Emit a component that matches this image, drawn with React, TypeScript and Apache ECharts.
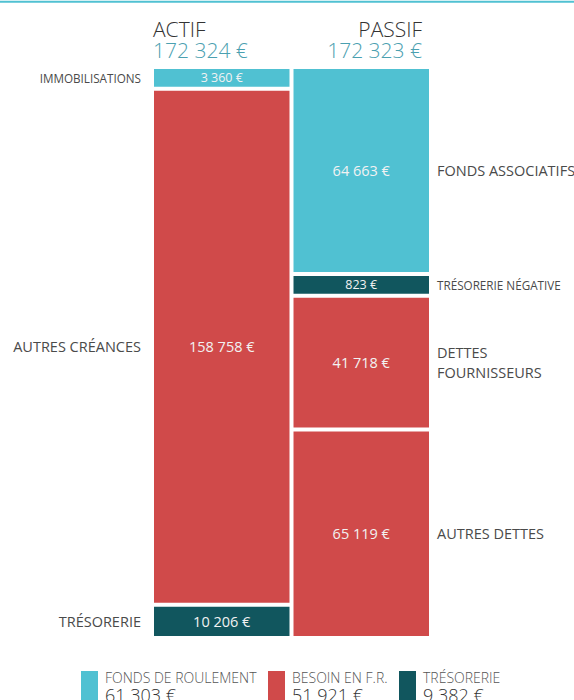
import React, { useEffect, useRef } from "react";
import * as echarts from "echarts";

const columns = ["ACTIF", "PASSIF"];
const actifLabels = ["IMMOBILISATIONS", "AUTRES CRÉANCES", "TRÉSORERIE"];
const actifValues = [3360, 158758, 10206];
const actifKinds = ["fr", "bfr", "treso"];
const passifLabels = ["FONDS ASSOCIATIFS", "TRÉSORERIE NÉGATIVE", "DETTES\nFOURNISSEURS", "AUTRES DETTES"];
const passifValues = [64663, 823, 41718, 65119];
const passifKinds = ["fr", "treso", "bfr", "bfr"];
const legendLabels = ["FONDS DE ROULEMENT", "BESOIN EN F.R.", "TRÉSORERIE"];
const legendValues = [61303, 51921, 9382];
const legendKinds = ["fr", "bfr", "treso"];

const COLORS: Record<string, string> = { fr: "#50c1d2", bfr: "#d04a4a", treso: "#11565e" };
const FONT = "'Open Sans', 'Noto Sans', sans-serif";
const MIN_SHARE = 0.038;

const fmt = (n: number) => n.toString().replace(/\B(?=(\d{3})+(?!\d))/g, " ") + " €";
const sum = (a: number[]) => a.reduce((s, v) => s + v, 0);

// share of the column height: small items get a minimum share, the rest is proportional
function shares(values: number[]) {
  const total = sum(values);
  const small = values.map((v) => v / total < MIN_SHARE);
  const nSmall = small.filter(Boolean).length;
  const restTotal = sum(values.filter((_, i) => !small[i]));
  const rest = 1 - nSmall * MIN_SHARE;
  return values.map((v, i) => (small[i] ? MIN_SHARE : (v / restTotal) * rest));
}

export default function App() {
  const ref = useRef<HTMLDivElement>(null);
  useEffect(() => {
    document.body.style.margin = "0";
    const chart = echarts.init(ref.current!, null, { renderer: "svg" });
    const aShares = shares(actifValues);
    const pShares = shares(passifValues);
    const series: any[] = [];
    const addColumn = (
      col: number,
      labels: string[],
      values: number[],
      kinds: string[],
      sh: number[],
      side: "left" | "right"
    ) => {
      values.forEach((v, i) => {
        const small = sh[i] === MIN_SHARE;
        const data: any[] = ["-", "-"];
        data[col] = { value: sh[i], real: v };
        series.push({
          type: "bar",
          name: labels[i],
          stack: "main",
          barCategoryGap: "0%",
          barGap: "-100%",
          silent: true,
          data,
          itemStyle: { color: COLORS[kinds[i]], borderColor: "#fff", borderWidth: 2 },
          label: {
            show: true,
            position: "inside",
            color: "#f2f2f2",
            fontFamily: FONT,
            fontSize: small ? 12.5 : 14.5,
            formatter: (p: any) => fmt(p.data.real),
          },
        });
        const data2: any[] = ["-", "-"];
        data2[col] = { value: sh[i], name: labels[i] };
        series.push({
          type: "bar",
          name: labels[i] + " ",
          stack: "labels",
          barCategoryGap: "0%",
          barGap: "-100%",
          silent: true,
          data: data2,
          itemStyle: { color: "rgba(0,0,0,0)" },
          label: {
            show: true,
            position: side,
            distance: side === "left" ? 11 : 6,
            color: "#4a4a4a",
            fontFamily: FONT,
            fontSize: small ? 11.7 : 14.5,
            lineHeight: 20,
            align: side === "left" ? "right" : "left",
            formatter: labels[i],
          },
        });
      });
    };
    addColumn(0, actifLabels, actifValues, actifKinds, aShares, "left");
    addColumn(1, passifLabels, passifValues, passifKinds, pShares, "right");

    const headRich = {
      a: { fontSize: 21, fontWeight: 300, fontFamily: FONT, fill: "#333", lineHeight: 21 },
      b: { fontSize: 21, fontWeight: 300, fontFamily: FONT, fill: "#4aa0b0", lineHeight: 21 },
    };
    const legRich = {
      a: { fontSize: 14, fontWeight: 300, fontFamily: FONT, fill: "#555", lineHeight: 15 },
      b: { fontSize: 18, fontWeight: 300, fontFamily: FONT, fill: "#333", lineHeight: 20 },
    };
    const legendX = [81, 268, 399];
    const graphic: any[] = [
      { type: "line", shape: { x1: 0, y1: 1.7, x2: 574, y2: 1.7 }, style: { stroke: "#50c1d2", lineWidth: 2 } },
      {
        type: "text",
        x: 153,
        y: 18,
        style: { text: `{a|${columns[0]}}\n{b|${fmt(sum(actifValues))}}`, rich: headRich, textAlign: "left" },
      },
      {
        type: "text",
        x: 422,
        y: 18,
        style: { text: `{a|${columns[1]}}\n{b|${fmt(sum(passifValues))}}`, rich: headRich, textAlign: "right" },
      },
    ];
    legendLabels.forEach((l, i) => {
      graphic.push({ type: "rect", shape: { x: legendX[i], y: 671, width: 17, height: 40 }, style: { fill: COLORS[legendKinds[i]] } });
      graphic.push({
        type: "text",
        x: legendX[i] + 24,
        y: 670,
        style: { text: `{a|${l}}\n{b|${fmt(legendValues[i])}}`, rich: legRich },
      });
    });

    chart.setOption({
      animation: false,
      grid: { left: 152, right: 143, top: 67, bottom: 62 },
      xAxis: { type: "category", data: columns, show: false },
      yAxis: { type: "value", inverse: true, min: 0, max: 1, show: false },
      series,
      graphic,
    });
    return () => chart.dispose();
  }, []);
  return <div ref={ref} style={{ width: 574, height: 700 }} />;
}
